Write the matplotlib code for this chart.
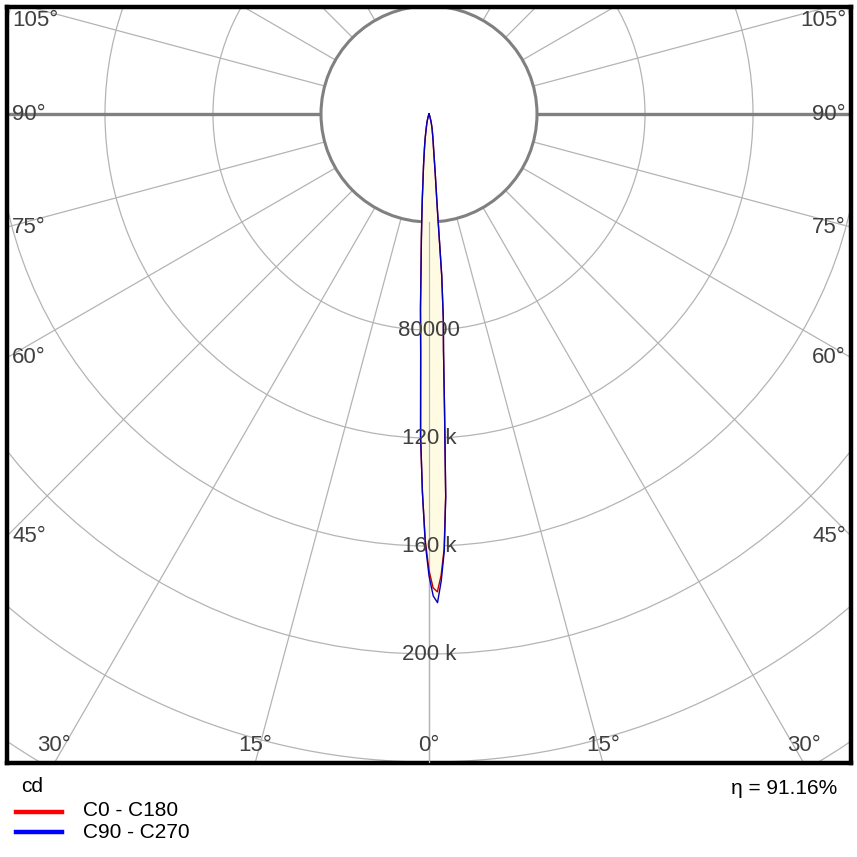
import numpy as np
import matplotlib.pyplot as plt
from matplotlib.lines import Line2D
from matplotlib.patches import Circle

plt.rcParams['font.family'] = ['Liberation Sans', 'DejaVu Sans']

# gamma angle in degrees, negative = C180 / C270 side
gamma = [-90, -25, -18, -14, -11, -9, -7.5, -6, -5, -4.5,
         -4, -3.5, -3, -2.5, -2, -1.5, -1, -0.5, 0, 0.5,
         1, 1.5, 2, 2.5, 3, 3.5, 4, 4.5, 5, 5.5,
         6, 7.5, 9, 12, 15, 20, 25, 90]
c0_c180 = [0, 0, 1000, 3000, 5500, 9000, 13000, 19500, 26000, 31800,
           38000, 46500, 56500, 72500, 88500, 119500, 140000, 158000, 169000, 175500,
           177000, 171000, 161000, 141500, 110000, 88000, 76000, 60000, 36000, 27000,
           22000, 13000, 9500, 5500, 3000, 800, 0, 0]
c90_c270 = [0, 0, 1000, 3000, 5500, 9000, 13000, 19500, 26000, 31800,
            38000, 46000, 56000, 72000, 88000, 119000, 140000, 159000, 171000, 178500,
            181000, 173000, 162000, 142000, 110000, 88000, 76000, 60000, 36000, 27000,
            22000, 13000, 9500, 5500, 3000, 800, 0, 0]

rings = [40000, 80000, 120000, 160000, 200000, 240000, 280000, 320000, 360000]
ring_labels = {80000: "80000", 120000: "120 k", 160000: "160 k", 200000: "200 k"}
angle_ticks = [0, 15, 30, 45, 60, 75, 90, 105]
spokes = np.arange(0, 360, 15)
eta = "91.16%"

px = 1 / 0.0027          # cd per pixel
xmax = 422 * px
ymax = 107 * px
ymin = -649 * px

fig = plt.figure(figsize=(8.57, 8.57), dpi=100)
ax = fig.add_axes([7 / 857, 94 / 857, 844 / 857, 756 / 857])
ax.set_xlim(-xmax, xmax)
ax.set_ylim(ymin, ymax)
ax.set_aspect('equal')
ax.set_xticks([])
ax.set_yticks([])
for s in ax.spines.values():
    s.set_linewidth(3.2)
    s.set_color('black')

grid_col = '#b4b4b4'
for r in rings[1:]:
    ax.add_patch(Circle((0, 0), r, fill=False, ec=grid_col, lw=0.9, zorder=1))
for a in spokes:
    if a in (90, 270):
        continue
    t = np.radians(a)
    ax.plot([40000 * np.sin(t), 500000 * np.sin(t)],
            [-40000 * np.cos(t), -500000 * np.cos(t)], color=grid_col, lw=0.9, zorder=1)

# 90 deg lines and the inner circle
ax.plot([40000, xmax], [0, 0], color='#808080', lw=2.4, zorder=2)
ax.plot([-40000, -xmax], [0, 0], color='#808080', lw=2.4, zorder=2)
ax.add_patch(Circle((0, 0), 40000, fc='white', ec='#808080', lw=2.2, zorder=2))

g = np.radians(gamma)
for vals in (c0_c180, c90_c270):
    v = np.array(vals)
    ax.fill(v * np.sin(g), -v * np.cos(g), color='#fffbe3', zorder=3)
# vertical 0 deg line shows through the fill
ax.plot([0, 0], [-40000, ymin], color=grid_col, lw=0.9, zorder=3.5)
for vals, col in [(c0_c180, '#c00000'), (c90_c270, '#0000c0')]:
    v = np.array(vals)
    ax.plot(v * np.sin(g), -v * np.cos(g), color=col, lw=1.0, zorder=4)

txt_col = '#404040'
for r, lab in ring_labels.items():
    ax.text(0, -r, lab, ha='center', va='center', fontsize=16, color=txt_col, zorder=5)

for a in angle_ticks:
    t = np.radians(a)
    for side in (-1, 1):
        if a == 0 and side == 1:
            continue
        dx = side * np.sin(t)
        dy = -np.cos(t)
        cands = []
        if abs(dx) > 1e-9:
            cands.append(xmax / abs(dx))
        if dy < -1e-9:
            cands.append(ymin / dy)
        if dy > 1e-9:
            cands.append(ymax / dy)
        tt = min(cands)
        x, y = dx * tt, dy * tt
        if abs(y - ymin) < 1:
            ax.text(x, ymin + 18 * px, f"{a}°", ha='center', va='center',
                    fontsize=16, color=txt_col, zorder=5)
        else:
            y = min(y, ymax - 14 * px)
            if side < 0:
                ax.text(-xmax + 5 * px, y, f"{a}°", ha='left', va='center',
                        fontsize=16, color=txt_col, zorder=5)
            else:
                ax.text(xmax - 5 * px, y, f"{a}°", ha='right', va='center',
                        fontsize=16, color=txt_col, zorder=5)

# legend below the diagram
H = 857
fig.text(21 / H, 1 - 787 / H, "cd", fontsize=15, va='center', ha='left')
fig.add_artist(Line2D([16 / H, 62 / H], [1 - 812 / H, 1 - 812 / H], color='red', lw=3.2))
fig.add_artist(Line2D([16 / H, 62 / H], [1 - 832 / H, 1 - 832 / H], color='blue', lw=3.2))
fig.text(83 / H, 1 - 810 / H, "C0 - C180", fontsize=15, va='center', ha='left')
fig.text(83 / H, 1 - 832 / H, "C90 - C270", fontsize=15, va='center', ha='left')
fig.text(837 / H, 1 - 788 / H, "η = " + eta, fontsize=15, va='center', ha='right')

fig.savefig("out.png", dpi=100)
